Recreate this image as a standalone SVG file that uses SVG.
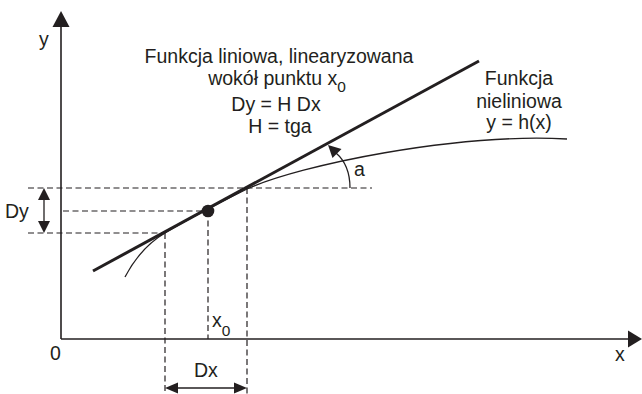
<svg xmlns="http://www.w3.org/2000/svg" width="642" height="394" viewBox="0 0 642 394">
<style>
text{font-family:"Liberation Sans",Arial,sans-serif;font-size:19.5px;fill:#231f20}
.ax{stroke:#231f20;stroke-width:1.6;fill:none}
.dash{stroke:#231f20;stroke-width:1.2;stroke-dasharray:6,3.5;fill:none}
.thin{stroke:#231f20;stroke-width:1.3;fill:none}
.head{fill:#231f20}
.sub{font-size:15.5px}
</style>
<rect width="642" height="394" fill="#fff"/>
<g id="axes">
<line class="ax" x1="61" y1="339" x2="61" y2="22"/>
<polygon class="head" points="61,11 52.5,27 69.5,27"/>
<line class="ax" x1="61" y1="339" x2="632" y2="339"/>
<polygon class="head" points="642,339 628,330.5 628,347.5"/>
<text x="39" y="46">y</text>
<text x="50" y="360">0</text>
<text x="615" y="361">x</text>
</g>
<g id="guides">
<line class="dash" x1="28" y1="188" x2="372" y2="188"/>
<line class="dash" x1="63" y1="211" x2="208" y2="211"/>
<line class="dash" x1="28" y1="233" x2="165" y2="233"/>
<line class="dash" x1="165" y1="233" x2="165" y2="394"/>
<line class="dash" x1="208" y1="211" x2="208" y2="339"/>
<line class="dash" x1="247" y1="188" x2="247" y2="394"/>
</g>
<g id="nonlinear">
<path class="thin" d="M125,277 C135,258 148,243 165,233 C190,218 225,200 247,189 C300,165 455,133 567,139"/>
</g>
<g id="linear">
<line x1="93" y1="271" x2="479" y2="61" stroke="#231f20" stroke-width="3"/>
</g>
<g id="point">
<circle cx="208" cy="211" r="6.3" fill="#231f20"/>
</g>
<g id="angle">
<path class="thin" d="M350,188 Q350,165 336,153"/>
<polygon class="head" points="328,145 341.5,149 332.5,158"/>
<text x="354" y="176">a</text>
</g>
<g id="dy">
<line class="thin" x1="44" y1="198" x2="44" y2="223"/>
<polygon class="head" points="44,188 38,200 50,200"/>
<polygon class="head" points="44,233 38,221 50,221"/>
<text x="5" y="218">Dy</text>
</g>
<g id="dx">
<line class="thin" x1="175" y1="388" x2="237" y2="388"/>
<polygon class="head" points="165,388 178,382.5 178,393.5"/>
<polygon class="head" points="247,388 234,382.5 234,393.5"/>
<text x="194" y="377">Dx</text>
</g>
<g id="x0label">
<text x="212" y="327">x<tspan class="sub" dy="9">0</tspan></text>
</g>
<g id="title">
<text x="279" y="63" text-anchor="middle">Funkcja liniowa, linearyzowana</text>
<text x="277" y="85" text-anchor="middle">wokół punktu x<tspan class="sub" dy="7">0</tspan></text>
<text x="276" y="111" text-anchor="middle">Dy = H Dx</text>
<text x="280" y="133" text-anchor="middle">H = tga</text>
</g>
<g id="nonlinlabel">
<text x="519" y="85" text-anchor="middle">Funkcja</text>
<text x="519" y="108" text-anchor="middle">nieliniowa</text>
<text x="519" y="129" text-anchor="middle">y = h(x)</text>
</g>
</svg>
